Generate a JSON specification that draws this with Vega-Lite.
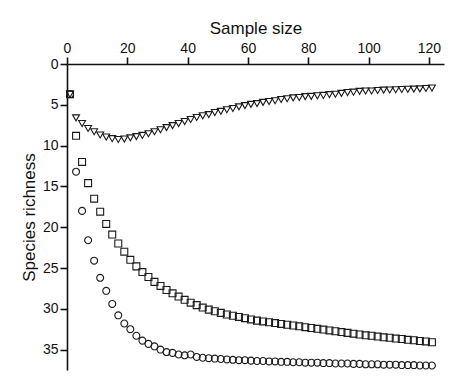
{
  "$schema": "https://vega.github.io/schema/vega-lite/v6.json",
  "width": 377,
  "height": 306,
  "autosize": {"type": "none"},
  "padding": {"left": 67, "top": 64, "right": 30, "bottom": 16},
  "background": "white",
  "config": {
    "view": {"stroke": null},
    "font": "Liberation Sans",
    "axis": {"domainColor": "#111", "tickColor": "#111", "labelColor": "#111", "titleColor": "#111", "grid": false, "domainWidth": 1.6, "tickWidth": 1.6, "labelFontSize": 14, "titleFontSize": 17, "titleFontWeight": "normal", "tickSize": 7}
  },
  "datasets": {
    "pts": [
      {"x": 1, "y": 3.7, "s": "triangle"}, {"x": 1, "y": 3.7, "s": "square"}, {"x": 1, "y": 3.7, "s": "circle"},
      {"x": 3, "y": 6.6, "s": "triangle"}, {"x": 5, "y": 7.3, "s": "triangle"}, {"x": 7, "y": 7.9, "s": "triangle"}, {"x": 9, "y": 8.3, "s": "triangle"}, {"x": 11, "y": 8.7, "s": "triangle"}, {"x": 13, "y": 8.95, "s": "triangle"}, {"x": 15, "y": 9.15, "s": "triangle"}, {"x": 17, "y": 9.25, "s": "triangle"}, {"x": 19, "y": 9.2, "s": "triangle"}, {"x": 21, "y": 9.05, "s": "triangle"}, {"x": 23, "y": 8.9, "s": "triangle"}, {"x": 25, "y": 8.75, "s": "triangle"}, {"x": 27, "y": 8.55, "s": "triangle"}, {"x": 29, "y": 8.3, "s": "triangle"}, {"x": 31, "y": 8.05, "s": "triangle"}, {"x": 33, "y": 7.8, "s": "triangle"}, {"x": 35, "y": 7.55, "s": "triangle"}, {"x": 37, "y": 7.3, "s": "triangle"}, {"x": 39, "y": 7.05, "s": "triangle"}, {"x": 41, "y": 6.8, "s": "triangle"}, {"x": 43, "y": 6.55, "s": "triangle"}, {"x": 45, "y": 6.35, "s": "triangle"}, {"x": 47, "y": 6.2, "s": "triangle"}, {"x": 49, "y": 5.95, "s": "triangle"}, {"x": 51, "y": 5.8, "s": "triangle"}, {"x": 53, "y": 5.6, "s": "triangle"}, {"x": 55, "y": 5.45, "s": "triangle"}, {"x": 57, "y": 5.25, "s": "triangle"}, {"x": 59, "y": 5.1, "s": "triangle"}, {"x": 61, "y": 4.95, "s": "triangle"}, {"x": 63, "y": 4.85, "s": "triangle"}, {"x": 65, "y": 4.7, "s": "triangle"}, {"x": 67, "y": 4.6, "s": "triangle"}, {"x": 69, "y": 4.5, "s": "triangle"}, {"x": 71, "y": 4.35, "s": "triangle"}, {"x": 73, "y": 4.25, "s": "triangle"}, {"x": 75, "y": 4.15, "s": "triangle"}, {"x": 77, "y": 4.1, "s": "triangle"}, {"x": 79, "y": 4.0, "s": "triangle"}, {"x": 81, "y": 3.97, "s": "triangle"}, {"x": 83, "y": 3.9, "s": "triangle"}, {"x": 85, "y": 3.85, "s": "triangle"}, {"x": 87, "y": 3.75, "s": "triangle"}, {"x": 89, "y": 3.7, "s": "triangle"}, {"x": 91, "y": 3.6, "s": "triangle"}, {"x": 93, "y": 3.5, "s": "triangle"}, {"x": 95, "y": 3.45, "s": "triangle"}, {"x": 97, "y": 3.35, "s": "triangle"}, {"x": 99, "y": 3.3, "s": "triangle"}, {"x": 101, "y": 3.3, "s": "triangle"}, {"x": 103, "y": 3.25, "s": "triangle"}, {"x": 105, "y": 3.2, "s": "triangle"}, {"x": 107, "y": 3.18, "s": "triangle"}, {"x": 109, "y": 3.15, "s": "triangle"}, {"x": 111, "y": 3.12, "s": "triangle"}, {"x": 113, "y": 3.1, "s": "triangle"}, {"x": 115, "y": 3.08, "s": "triangle"}, {"x": 117, "y": 3.05, "s": "triangle"}, {"x": 119, "y": 3.0, "s": "triangle"}, {"x": 121, "y": 2.95, "s": "triangle"},
      {"x": 3, "y": 8.8, "s": "square"}, {"x": 5, "y": 12.0, "s": "square"}, {"x": 7, "y": 14.6, "s": "square"}, {"x": 9, "y": 16.5, "s": "square"}, {"x": 11, "y": 18.1, "s": "square"}, {"x": 13, "y": 19.6, "s": "square"}, {"x": 15, "y": 20.9, "s": "square"}, {"x": 17, "y": 22.0, "s": "square"}, {"x": 19, "y": 23.0, "s": "square"}, {"x": 21, "y": 24.0, "s": "square"}, {"x": 23, "y": 24.8, "s": "square"}, {"x": 25, "y": 25.5, "s": "square"}, {"x": 27, "y": 26.1, "s": "square"}, {"x": 29, "y": 26.7, "s": "square"}, {"x": 31, "y": 27.2, "s": "square"}, {"x": 33, "y": 27.7, "s": "square"}, {"x": 35, "y": 28.1, "s": "square"}, {"x": 37, "y": 28.5, "s": "square"}, {"x": 39, "y": 28.9, "s": "square"}, {"x": 41, "y": 29.25, "s": "square"}, {"x": 43, "y": 29.55, "s": "square"}, {"x": 45, "y": 29.85, "s": "square"}, {"x": 47, "y": 30.1, "s": "square"}, {"x": 49, "y": 30.3, "s": "square"}, {"x": 51, "y": 30.5, "s": "square"}, {"x": 53, "y": 30.7, "s": "square"}, {"x": 55, "y": 30.85, "s": "square"}, {"x": 57, "y": 31.0, "s": "square"}, {"x": 59, "y": 31.15, "s": "square"}, {"x": 61, "y": 31.3, "s": "square"}, {"x": 63, "y": 31.45, "s": "square"}, {"x": 65, "y": 31.55, "s": "square"}, {"x": 67, "y": 31.65, "s": "square"}, {"x": 69, "y": 31.75, "s": "square"}, {"x": 71, "y": 31.85, "s": "square"}, {"x": 73, "y": 31.95, "s": "square"}, {"x": 75, "y": 32.05, "s": "square"}, {"x": 77, "y": 32.15, "s": "square"}, {"x": 79, "y": 32.25, "s": "square"}, {"x": 81, "y": 32.35, "s": "square"}, {"x": 83, "y": 32.45, "s": "square"}, {"x": 85, "y": 32.55, "s": "square"}, {"x": 87, "y": 32.65, "s": "square"}, {"x": 89, "y": 32.75, "s": "square"}, {"x": 91, "y": 32.85, "s": "square"}, {"x": 93, "y": 32.95, "s": "square"}, {"x": 95, "y": 33.05, "s": "square"}, {"x": 97, "y": 33.15, "s": "square"}, {"x": 99, "y": 33.25, "s": "square"}, {"x": 101, "y": 33.3, "s": "square"}, {"x": 103, "y": 33.4, "s": "square"}, {"x": 105, "y": 33.5, "s": "square"}, {"x": 107, "y": 33.55, "s": "square"}, {"x": 109, "y": 33.65, "s": "square"}, {"x": 111, "y": 33.7, "s": "square"}, {"x": 113, "y": 33.8, "s": "square"}, {"x": 115, "y": 33.85, "s": "square"}, {"x": 117, "y": 33.95, "s": "square"}, {"x": 119, "y": 34.0, "s": "square"}, {"x": 121, "y": 34.1, "s": "square"},
      {"x": 3, "y": 13.2, "s": "circle"}, {"x": 5, "y": 18.0, "s": "circle"}, {"x": 7, "y": 21.6, "s": "circle"}, {"x": 9, "y": 24.1, "s": "circle"}, {"x": 11, "y": 26.2, "s": "circle"}, {"x": 13, "y": 27.8, "s": "circle"}, {"x": 15, "y": 29.4, "s": "circle"}, {"x": 17, "y": 30.8, "s": "circle"}, {"x": 19, "y": 31.8, "s": "circle"}, {"x": 21, "y": 32.5, "s": "circle"}, {"x": 23, "y": 33.3, "s": "circle"}, {"x": 25, "y": 33.9, "s": "circle"}, {"x": 27, "y": 34.3, "s": "circle"}, {"x": 29, "y": 34.6, "s": "circle"}, {"x": 31, "y": 35.0, "s": "circle"}, {"x": 33, "y": 35.3, "s": "circle"}, {"x": 35, "y": 35.4, "s": "circle"}, {"x": 37, "y": 35.6, "s": "circle"}, {"x": 39, "y": 35.7, "s": "circle"}, {"x": 41, "y": 35.6, "s": "circle"}, {"x": 43, "y": 35.9, "s": "circle"}, {"x": 45, "y": 36.0, "s": "circle"}, {"x": 47, "y": 36.05, "s": "circle"}, {"x": 49, "y": 36.1, "s": "circle"}, {"x": 51, "y": 36.15, "s": "circle"}, {"x": 53, "y": 36.2, "s": "circle"}, {"x": 55, "y": 36.25, "s": "circle"}, {"x": 57, "y": 36.3, "s": "circle"}, {"x": 59, "y": 36.3, "s": "circle"}, {"x": 61, "y": 36.35, "s": "circle"}, {"x": 63, "y": 36.4, "s": "circle"}, {"x": 65, "y": 36.4, "s": "circle"}, {"x": 67, "y": 36.45, "s": "circle"}, {"x": 69, "y": 36.45, "s": "circle"}, {"x": 71, "y": 36.5, "s": "circle"}, {"x": 73, "y": 36.5, "s": "circle"}, {"x": 75, "y": 36.55, "s": "circle"}, {"x": 77, "y": 36.55, "s": "circle"}, {"x": 79, "y": 36.6, "s": "circle"}, {"x": 81, "y": 36.6, "s": "circle"}, {"x": 83, "y": 36.6, "s": "circle"}, {"x": 85, "y": 36.65, "s": "circle"}, {"x": 87, "y": 36.65, "s": "circle"}, {"x": 89, "y": 36.7, "s": "circle"}, {"x": 91, "y": 36.7, "s": "circle"}, {"x": 93, "y": 36.7, "s": "circle"}, {"x": 95, "y": 36.75, "s": "circle"}, {"x": 97, "y": 36.75, "s": "circle"}, {"x": 99, "y": 36.8, "s": "circle"}, {"x": 101, "y": 36.8, "s": "circle"}, {"x": 103, "y": 36.8, "s": "circle"}, {"x": 105, "y": 36.85, "s": "circle"}, {"x": 107, "y": 36.85, "s": "circle"}, {"x": 109, "y": 36.85, "s": "circle"}, {"x": 111, "y": 36.9, "s": "circle"}, {"x": 113, "y": 36.9, "s": "circle"}, {"x": 115, "y": 36.9, "s": "circle"}, {"x": 117, "y": 36.95, "s": "circle"}, {"x": 119, "y": 36.95, "s": "circle"}, {"x": 121, "y": 36.95, "s": "circle"}
    ]
  },
  "data": {"name": "pts"},
  "mark": {"type": "point", "filled": false, "stroke": "#1a1a1a", "strokeWidth": 1.1, "size": 48, "opacity": 1},
  "encoding": {
    "x": {
      "field": "x", "type": "quantitative",
      "scale": {"domain": [0, 125], "nice": false, "zero": false},
      "axis": {"orient": "top", "values": [0, 20, 40, 60, 80, 100, 120], "title": "Sample size", "titlePadding": 4, "labelPadding": 2, "labelFlush": false}
    },
    "y": {
      "field": "y", "type": "quantitative",
      "scale": {"domain": [0, 37.5], "nice": false, "reverse": true},
      "axis": {"values": [0, 5, 10, 15, 20, 25, 30, 35], "title": "Species richness", "titlePadding": 4, "labelPadding": 2, "labelFlush": false}
    },
    "shape": {
      "field": "s", "type": "nominal",
      "scale": {"domain": ["circle", "square", "triangle"], "range": ["circle", "square", "triangle-down"]},
      "legend": null
    }
  }
}
